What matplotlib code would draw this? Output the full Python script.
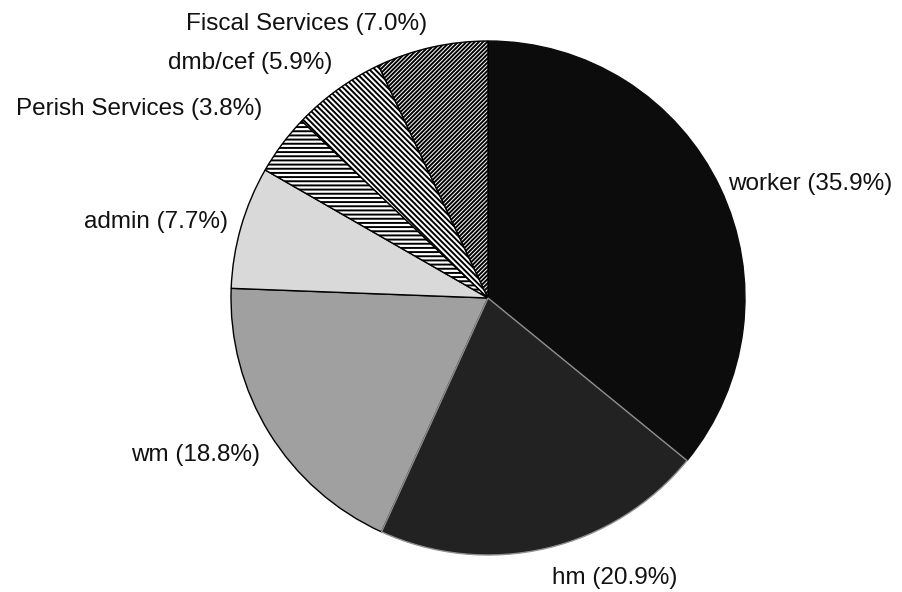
import matplotlib
matplotlib.use("Agg")
import matplotlib.pyplot as plt

plt.rcParams["font.family"] = ["Liberation Sans", "DejaVu Sans"]
plt.rcParams["hatch.linewidth"] = 1.4

# share of total, clockwise from 12 o'clock
categories = ["worker", "hm", "wm", "admin", "Perish Services", "dmb/cef",
              "Fiscal Services"]
shares = [35.9, 20.9, 18.8, 7.7, 3.8, 5.9, 7.0]

FILLS = ["#0c0c0c", "#222222", "#a0a0a0", "#d9d9d9", "white", "white", "white"]
HATCHES = [None, None, None, None, "----", "\\" * 6, "/" * 8]
EDGES = ["#0c0c0c", "#909090", "black", "black", "black", "black", "black"]
# label anchors (radius units from the centre) and horizontal alignment
LABEL_XY = [(0.934, 0.444, "left"), (0.249, -1.089, "left"),
            (-0.887, -0.611, "right"), (-1.012, 0.296, "right"),
            (-0.879, 0.735, "right"), (-0.607, 0.914, "right"),
            (-0.237, 1.066, "right")]

W, H = 903, 592
CX, CY, R = 488, 298, 257

fig = plt.figure(figsize=(W / 100, H / 100), dpi=100)
ax = fig.add_axes([0, 0, 1, 1])

wedges, _ = ax.pie(shares, startangle=90, counterclock=False,
                   colors=FILLS, radius=1.0,
                   wedgeprops=dict(linewidth=1.0))
for w, ec, h in zip(wedges, EDGES, HATCHES):
    w.set_edgecolor(ec)
    if h:
        w.set_hatch(h)
# keep the light hm border on top of its neighbours
wedges[1].set_zorder(3)

for name, v, (lx, ly, ha) in zip(categories, shares, LABEL_XY):
    ax.text(lx, ly, f"{name} ({v:.1f}%)", ha=ha, va="center", fontsize=17.5,
            color="#111111")

ax.set_xlim(-CX / R, (W - CX) / R)
ax.set_ylim((CY - H) / R, CY / R)
ax.set_aspect("auto")
ax.axis("off")

fig.savefig("out.png", dpi=100)
